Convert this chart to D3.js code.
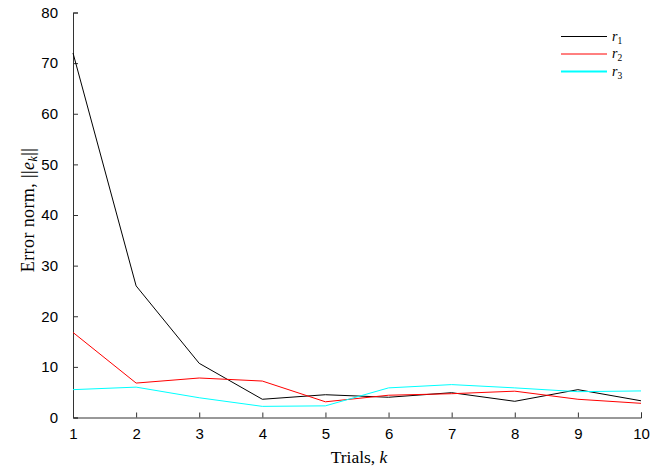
<!DOCTYPE html>
<html><head><meta charset="utf-8">
<script src="https://cdn.jsdelivr.net/npm/d3@7"></script>
<style>body{margin:0;background:#fff}svg{display:block}</style>
</head><body>
<svg id="c" width="667" height="473"></svg>
<script>
const trials = [1,2,3,4,5,6,7,8,9,10];
const r1 = [72, 26, 10.7, 3.6, 4.5, 4.0, 4.9, 3.2, 5.5, 3.3];
const r2 = [16.8, 6.8, 7.8, 7.2, 3.1, 4.4, 4.7, 5.2, 3.6, 2.8];
const r3 = [5.5, 6.0, 3.9, 2.2, 2.3, 5.85, 6.5, 5.85, 5.1, 5.25];
const xTicks = [1,2,3,4,5,6,7,8,9,10];
const yTicks = [0,10,20,30,40,50,60,70,80];
const seriesNames = ["1","2","3"];
const colors = ["#000000","#ff0000","#00ffff"];

const svg = d3.select("#c");
const x = d3.scaleLinear().domain([1,10]).range([73,641]);
const y = d3.scaleLinear().domain([0,80]).range([417.5,12.5]);

const gx = svg.append("g").attr("transform","translate(0,417.5)")
  .call(d3.axisBottom(x).tickValues(xTicks).tickSize(-5).tickPadding(11).tickFormat(d3.format("d")));
const gy = svg.append("g").attr("transform","translate(73,0)")
  .call(d3.axisLeft(y).tickValues(yTicks).tickSize(-5).tickPadding(15).tickFormat(d3.format("d")));
[gx,gy].forEach(g=>{
  g.select(".domain").attr("stroke","#333");
  g.selectAll(".tick line").attr("stroke","#333");
  g.selectAll(".tick text").attr("font-family","'Liberation Sans', Arial, sans-serif").attr("font-size",15).attr("fill","#000");
});

const data = [r1,r2,r3];
const line = d3.line().x((d,i)=>x(trials[i])).y(d=>y(d));
data.forEach((s,i)=>{
  svg.append("path").datum(s).attr("d",line).attr("fill","none")
    .attr("stroke",colors[i]).attr("stroke-width",1);
});

// legend
const lg = svg.append("g");
seriesNames.forEach((n,i)=>{
  const ly = 36.5 + i*17.5;
  lg.append("line").attr("x1",561).attr("x2",607).attr("y1",ly).attr("y2",ly)
    .attr("stroke",colors[i]).attr("stroke-width",i===2?2:1);
  const t = lg.append("text").attr("x",612).attr("y",ly+4)
    .attr("font-family","'Liberation Serif', serif").attr("font-size",14);
  t.append("tspan").attr("font-style","italic").text("r");
  t.append("tspan").attr("font-size",9.5).attr("dy",3).text(n);
});

// axis labels
const xl = svg.append("text").attr("x",359).attr("y",463).attr("text-anchor","middle")
  .attr("font-family","'Liberation Serif', serif").attr("font-size",17.5);
xl.append("tspan").text("Trials, ");
xl.append("tspan").attr("font-style","italic").text("k");

const yl = svg.append("text").attr("transform","translate(34,210) rotate(-90)").attr("text-anchor","middle")
  .attr("font-family","'Liberation Serif', serif").attr("font-size",18).attr("letter-spacing",0.4);
yl.append("tspan").text("Error norm, ||");
yl.append("tspan").attr("font-style","italic").text("e");
yl.append("tspan").attr("font-style","italic").attr("font-size",12).attr("dy",3).text("k");
yl.append("tspan").attr("dy",-3).text("||");
</script>
</body></html>
